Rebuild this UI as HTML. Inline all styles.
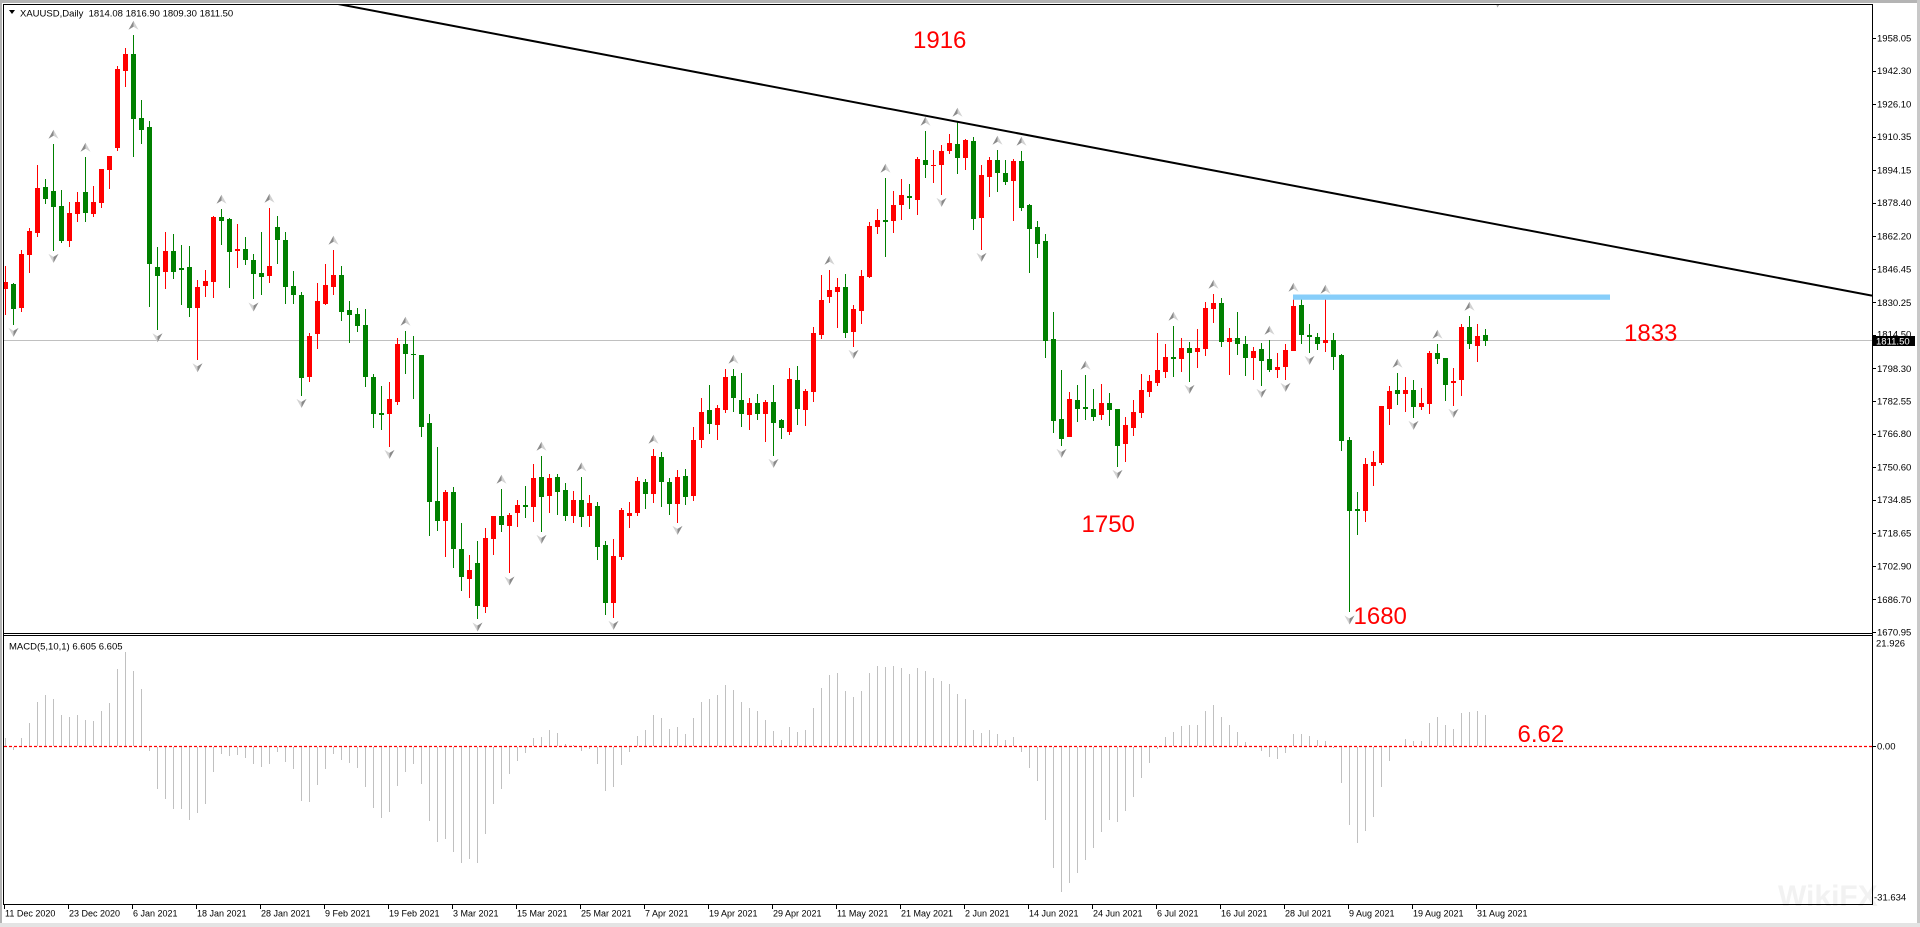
<!DOCTYPE html>
<html><head><meta charset="utf-8"><style>
html,body{margin:0;padding:0;background:#fff;width:1920px;height:927px;overflow:hidden}
svg{display:block}
text{font-family:"Liberation Sans",Arial,sans-serif}
.ax{font-size:9.5px;fill:#000}
.dx{font-size:9px;fill:#000}
.an{font-size:24px;fill:#ff0000}
</style></head><body>
<svg id="c" xmlns="http://www.w3.org/2000/svg" width="1920" height="927" viewBox="0 0 1920 927">
<defs>
<clipPath id="pane"><rect x="4" y="5" width="1868" height="628"/></clipPath>
<clipPath id="mpane"><rect x="4" y="636" width="1868" height="268"/></clipPath>
</defs>
<rect width="1920" height="927" fill="#fff"/>
<!-- outer gray frame -->
<rect x="0" y="0" width="1920" height="3" fill="#b4b4b4"/>
<rect x="0" y="0" width="2" height="927" fill="#b4b4b4"/>
<rect x="1917" y="0" width="3" height="927" fill="#c8c8c8"/>
<rect x="0" y="923" width="1920" height="4" fill="#e4e4e4"/>

<!-- current price line -->
<rect x="4" y="340" width="1868" height="1" fill="#c0c0c0"/>

<!-- MACD histogram -->
<g id="hist" clip-path="url(#mpane)" shape-rendering="crispEdges"></g>
<line x1="4" y1="746.5" x2="1872" y2="746.5" stroke="#ff0000" stroke-width="1.3" stroke-dasharray="3,2"/>

<!-- candles -->
<g id="cand" clip-path="url(#pane)" shape-rendering="crispEdges"></g>
<g id="frac" clip-path="url(#pane)"></g>

<!-- trendline -->
<g clip-path="url(#pane)">
<line x1="338" y1="4" x2="1872" y2="295.7" stroke="#000" stroke-width="2"/>
</g>
<!-- blue horizontal line -->
<rect x="1293" y="294.5" width="317" height="5.3" fill="#87cefa"/>

<!-- annotations -->
<text class="an" x="913" y="48">1916</text>
<text class="an" x="1081.5" y="532">1750</text>
<text class="an" x="1624" y="341">1833</text>
<text class="an" x="1353.5" y="624">1680</text>
<text class="an" x="1517.5" y="742">6.62</text>

<!-- watermark -->
<text x="1778" y="906" style="font-size:30px;font-weight:bold;fill:#f2f2f2">WikiFX</text>

<!-- title -->
<path d="M9,10 L15,10 L12,14 Z" fill="#000"/>
<text class="ax" x="20" y="16.5" style="white-space:pre">XAUUSD,Daily  1814.08 1816.90 1809.30 1811.50</text>
<text class="ax" x="9" y="649.5">MACD(5,10,1) 6.605 6.605</text>

<!-- chart frame -->
<g shape-rendering="crispEdges" fill="#000">
<rect x="3" y="4" width="1870" height="1"/>
<rect x="3" y="4" width="1" height="901"/>
<rect x="1872" y="4" width="1" height="901"/>
<rect x="3" y="904" width="1870" height="1"/>
<rect x="3" y="633" width="1870" height="1"/>
<rect x="3" y="635" width="1870" height="1"/>
</g>

<!-- price axis -->
<g id="pax" shape-rendering="crispEdges"></g>
<text class="ax" x="1877" y="41.7">1958.05</text>
<text class="ax" x="1877" y="74">1942.30</text>
<text class="ax" x="1877" y="107.5">1926.10</text>
<text class="ax" x="1877" y="140.1">1910.35</text>
<text class="ax" x="1877" y="173.6">1894.15</text>
<text class="ax" x="1877" y="206.2">1878.40</text>
<text class="ax" x="1877" y="239.7">1862.20</text>
<text class="ax" x="1877" y="272.3">1846.45</text>
<text class="ax" x="1877" y="305.8">1830.25</text>
<text class="ax" x="1877" y="337.4">1814.50</text>
<text class="ax" x="1877" y="371.9">1798.30</text>
<text class="ax" x="1877" y="404.5">1782.55</text>
<text class="ax" x="1877" y="437.1">1766.80</text>
<text class="ax" x="1877" y="470.6">1750.60</text>
<text class="ax" x="1877" y="503.2">1734.85</text>
<text class="ax" x="1877" y="536.7">1718.65</text>
<text class="ax" x="1877" y="569.3">1702.90</text>
<text class="ax" x="1877" y="602.8">1686.70</text>
<text class="ax" x="1877" y="635.4">1670.95</text>
<rect x="1873" y="336" width="42" height="10" fill="#000"/>
<text class="ax" x="1876" y="344.5" style="fill:#fff">1811.50</text>

<!-- MACD axis -->
<text class="ax" x="1876" y="646.7">21.926</text>
<rect x="1872" y="746" width="4" height="1" fill="#000"/>
<text class="ax" x="1877" y="749.4">0.00</text>
<text class="ax" x="1874" y="900.4">-31.634</text>

<!-- date axis -->
<g id="dax" shape-rendering="crispEdges"></g>
<text class="dx" x="5" y="916.5">11 Dec 2020</text>
<text class="dx" x="69" y="916.5">23 Dec 2020</text>
<text class="dx" x="133" y="916.5">6 Jan 2021</text>
<text class="dx" x="197" y="916.5">18 Jan 2021</text>
<text class="dx" x="261" y="916.5">28 Jan 2021</text>
<text class="dx" x="325" y="916.5">9 Feb 2021</text>
<text class="dx" x="389" y="916.5">19 Feb 2021</text>
<text class="dx" x="453" y="916.5">3 Mar 2021</text>
<text class="dx" x="517" y="916.5">15 Mar 2021</text>
<text class="dx" x="581" y="916.5">25 Mar 2021</text>
<text class="dx" x="645" y="916.5">7 Apr 2021</text>
<text class="dx" x="709" y="916.5">19 Apr 2021</text>
<text class="dx" x="773" y="916.5">29 Apr 2021</text>
<text class="dx" x="837" y="916.5">11 May 2021</text>
<text class="dx" x="901" y="916.5">21 May 2021</text>
<text class="dx" x="965" y="916.5">2 Jun 2021</text>
<text class="dx" x="1029" y="916.5">14 Jun 2021</text>
<text class="dx" x="1093" y="916.5">24 Jun 2021</text>
<text class="dx" x="1157" y="916.5">6 Jul 2021</text>
<text class="dx" x="1221" y="916.5">16 Jul 2021</text>
<text class="dx" x="1285" y="916.5">28 Jul 2021</text>
<text class="dx" x="1349" y="916.5">9 Aug 2021</text>
<text class="dx" x="1413" y="916.5">19 Aug 2021</text>
<text class="dx" x="1477" y="916.5">31 Aug 2021</text>
</svg>
<script>
(function(){
var A=[
['r',787,808,738,885],['g',793,866,790,914],['r',702,863,690,875],['r',633,704,625,758],['r',504,640,435,650],
['g',501,536,477,553],['g',513,560,372,692],['g',558,662,510,668],['r',579,662,546,680],['r',546,581,516,605],
['g',516,578,411,605],['r',546,581,497,590],['r',447,548,447,563],['r',408,449,408,506],['r',147,383,138,392],
['r',102,152,84,200],['g',102,298,45,410],['g',294,329,240,371],['g',321,731,303,860],['g',741,767,681,930],
['r',693,755,636,806],['g',693,755,642,776],['g',744,749,675,855],['g',741,863,678,890],['r',801,863,780,1020],
['r',783,797,750,830],['r',591,785,588,833],['g',591,602,567,674],['g',597,695,595,803],['r',687,692,612,743],
['g',687,719,651,734],['g',720,761,702,838],['g',759,770,636,824],['r',738,767,564,788],['g',621,659,588,731],
['g',660,800,636,851],['g',798,824,753,851],['g',825,1073,816,1127],['r',948,1070,939,1085],['r',843,941,789,986],
['r',795,851,732,854],['r',765,800,690,824],['g',765,875,738,902],['g',870,884,843,968],['g',882,917,864,935],
['g',915,1070,867,1100],['g',1071,1181,1062,1223],['g',1179,1184,1098,1229]];
var B=[
['r',297,341,246,440],['r',131,305,114,314],['g',131,161,93,221],['g',161,164,108,296],['g',165,380,165,410],
['g',369,605,343,707],['g',603,662,441,692],['r',576,662,571,770],['g',576,746,561,803],['g',747,830,669,872],
['r',810,836,765,893],['g',789,917,723,958],['r',714,920,684,938],['r',648,716,648,764],['g',648,674,567,695],
['r',645,677,639,820],['r',615,638,600,680],['g',616,620,558,654],['r',534,620,491,665],['g',531,590,468,695],
['r',534,587,521,638],['g',531,575,521,644],['g',570,647,549,662],['r',600,647,573,668],['g',600,650,530,680],
['r',609,647,585,680],['g',618,740,606,779],['g',735,908,722,946],['r',768,908,717,953],['r',630,770,624,779],
['r',639,647,606,683],['r',543,638,531,647],['g',546,581,537,626],['r',468,581,447,608],['g',471,545,456,620],
['g',546,611,534,644],['r',531,611,510,668],['g',528,590,507,614],['r',420,587,381,602],['r',336,419,294,443],
['g',330,371,255,401],['r',324,374,315,419],['r',231,329,207,340],['g',228,293,207,335],['g',300,341,219,380],
['r',309,344,294,389],['g',309,341,282,359],['r',306,341,300,425],['g',306,368,255,467]];
var C=[
['g',960,985,957,1016],['r',837,995,803,1004],['g',840,926,798,974],['r',873,929,867,977],['r',699,875,681,905],
['r',600,704,525,716],['r',570,590,510,608],['r',561,575,534,683],['g',561,698,522,713],['r',627,695,615,740],
['r',528,632,510,671],['r',378,531,366,533],['r',360,380,327,401],['g',360,365,234,470],['r',315,362,272,398],
['r',285,314,237,359],['g',288,293,252,326],['r',177,299,171,344],['g',180,194,93,233],['r',195,197,150,248],
['r',153,194,135,284],['r',129,152,102,161],['g',131,173,66,221],['r',120,173,117,209],['g',123,356,111,389],
['r',225,353,195,449],['r',180,230,171,290],['g',180,218,150,275],['g',219,245,180,254],['r',183,242,177,362],
['g',183,323,153,332],['g',315,386,312,518],['g',381,431,363,473],['g',423,722,402,773],['g',717,962,636,998],
['g',957,1016,810,1037],['r',897,1010,876,1010],['g',900,926,855,965],['g',921,926,825,959],['g',927,950,867,962],
['r',909,944,852,959],['g',909,929,879,977],['g',927,1037,927,1100],['r',975,1031,951,1085],['r',936,983,900,1007],
['r',870,938,822,953],['r',843,875,825,890],['r',810,848,699,857],['r',771,815,732,833]];
var D=[
['g',262,268,168,320],['r',234,266,204,305],['g',234,248,216,335],['r',234,245,177,293],['r',113,236,96,257],
['r',98,116,72,158],['g',98,215,84,230],['r',204,215,174,314],['g',204,221,126,254],['g',222,263,198,317],
['r',243,263,231,329],['g',237,272,219,347],['g',267,299,210,307],['r',291,299,249,323],['r',240,290,222,329],
['r',108,242,81,242],['g',105,194,87,221],['g',195,200,162,248],['g',201,221,189,239],['r',210,218,87,245],
['g',210,260,189,299],['g',255,512,252,542],['g',510,722,500,1027],['g',717,722,665,794],['r',582,722,564,755],
['r',576,587,543,647],['r',408,579,408,584],['r',363,416,348,464],['g',360,371,309,404],['r',360,371,321,425],
['g',360,410,330,443],['r',399,410,354,419],['r',249,401,243,431],['g',249,266,222,281],['g',264,344,264,392],
['r',333,338,294,407],['r',171,329,162,377],['g',171,221,138,236],['r',198,227,162,275],['g',195,212,177,227]];
var regs=[[0,20,A],[48,300,B],[97,100,C],[146,270,D]];
var bars=[];
regs.forEach(function(r){var s=r[0],off=r[1];r[2].forEach(function(b,i){
 bars[s+i]={c:b[0]=='r'?'#ff0000':'#008000',bt:off+b[1]/3,bb:off+b[2]/3,wt:off+b[3]/3,wb:off+b[4]/3};});});
function cx(k){return 5.5+8*k;}
var s='';
bars.forEach(function(b,k){
 var x=cx(k);
 var wt=Math.round(b.wt),wb=Math.round(b.wb);
 s+='<rect x="'+(x-0.5)+'" y="'+wt+'" width="1" height="'+Math.max(1,wb-wt)+'" fill="'+b.c+'"/>';
 var bt=Math.round(b.bt),bb=Math.round(b.bb);
 s+='<rect x="'+(x-2.5)+'" y="'+bt+'" width="5" height="'+Math.max(1,bb-bt)+'" fill="'+b.c+'"/>';
});
document.getElementById('cand').innerHTML=s;

// MACD histogram
var M=[305,340,305,261,197,177,188,237,242,237,251,254,225,201,98,47,104,158,341,455,
485,515,515,548,527,500,404,350,356,353,362,380,389,380,344,374,395,491,494,443,
395,350,368,377,392,449,512,542,524,446,404,380,440,551,614,605,644,677,665,677,
590,500,455,410,371,347,305,302,282,291,324,327,341,337,380,461,449,383,344,299,
282,237,245,278,272,293,245,197,188,177,147,162,197,215,224,
251,285,312,273,288,282,215,155,117,111,165,183,165,111,90,93,90,96,114,96,
105,126,135,144,174,189,282,291,282,294,312,303,344,392,431,548,692,764,737,707,
668,632,584,548,554,521,479,422,377,335,303,288,270,267,267,225,207,243,267,288,
318,330,341,359,365,347,294,294,300,312,315,333,437,563,617,581,539,449,371,330,
309,315,315,261,243,267,279,231,228,225,237];
s='';
M.forEach(function(z,k){
 var y=Math.round(636+z/3),x=cx(k)-0.5;
 var y0=746;
 if(y<y0){s+='<rect x="'+x+'" y="'+y+'" width="1" height="'+(y0-y)+'" fill="#c0c0c0"/>';}
 else if(y>y0){s+='<rect x="'+x+'" y="'+(y0+1)+'" width="1" height="'+(y-y0)+'" fill="#c0c0c0"/>';}
});
document.getElementById('hist').innerHTML=s;

// fractals
var ups=[6,10,16,27,33,41,50,62,67,72,81,91,103,110,115,119,124,127,135,146,151,158,161,165,174,179,183];
var dns=[1,6,19,24,31,37,48,59,63,67,76,84,96,106,117,122,132,139,148,157,160,163,168,176,181];
function up(x,y){return '<path d="M'+x+','+(y-4.5)+' L'+x+','+(y+1.5)+' L'+(x-5)+','+(y+4.5)+' Z" fill="#8a8a8a"/>'+
 '<path d="M'+x+','+(y-4.5)+' L'+(x+5)+','+(y+4.5)+' L'+x+','+(y+1.5)+' Z" fill="#d2d2d2"/>';}
function dn(x,y){return '<path d="M'+x+','+(y+4.5)+' L'+x+','+(y-1.5)+' L'+(x-5)+','+(y-4.5)+' Z" fill="#d2d2d2"/>'+
 '<path d="M'+x+','+(y+4.5)+' L'+(x+5)+','+(y-4.5)+' L'+x+','+(y-1.5)+' Z" fill="#8a8a8a"/>';}
s='';
ups.forEach(function(k){s+=up(cx(k),bars[k].wt-9.8);});
dns.forEach(function(k){s+=dn(cx(k),bars[k].wb+7.7);});
s+=dn(1497.5,3);
document.getElementById('frac').innerHTML=s;

// price axis ticks
var py=[38,71,104,137,170,203,236,269,302,335,368,401,434,467,500,533,566,599,632];
s='';
py.forEach(function(y){s+='<rect x="1872" y="'+y+'" width="4" height="1" fill="#000"/>';});
document.getElementById('pax').innerHTML=s;
// date ticks
s='';
for(var j=0;j<24;j++){s+='<rect x="'+(4+64*j)+'" y="904" width="1" height="5" fill="#000"/>';}
document.getElementById('dax').innerHTML=s;
})();
</script>
</body></html>
